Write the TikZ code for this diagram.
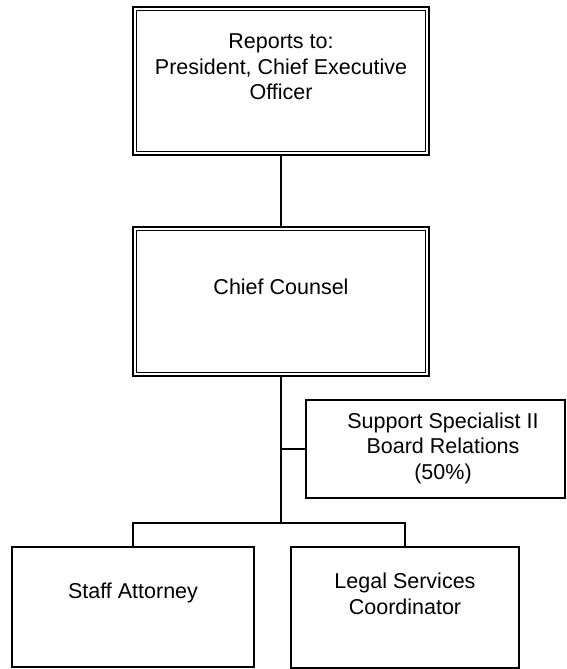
\documentclass[tikz,border=0pt]{standalone}
\usepackage{fontspec}
\setmainfont{Liberation Sans}
\begin{document}
\begin{tikzpicture}[x=1pt,y=1pt,
  box/.style={draw, line width=1.7pt, rectangle, inner sep=0pt},
  lbl/.style={align=center, inner sep=0pt, font=\fontsize{21.5}{25.5}\selectfont},
  conn/.style={line width=1.7pt},
  inner/.style={line width=1.3pt}]
\useasboundingbox (0,0) rectangle (566,669);
% boxes
\node[box, minimum width=296pt, minimum height=148pt] (top) at (281,588) {};
\node[box, minimum width=296pt, minimum height=149pt] (chief) at (281,367.5) {};
\node[box, line width=1.5pt, minimum width=259pt, minimum height=98pt] (support) at (435.5,220) {};
\node[box, line width=1.5pt, minimum width=242pt, minimum height=120pt] (staff) at (133,62) {};
\node[box, line width=1.5pt, minimum width=228pt, minimum height=121pt] (legal) at (405,61.5) {};
% inner borders (double frames)
\draw[inner] ([shift={(4.5pt,-4.5pt)}]top.north west) rectangle ([shift={(-4.5pt,4.5pt)}]top.south east);
\draw[inner] ([shift={(4.5pt,-4.5pt)}]chief.north west) rectangle ([shift={(-4.5pt,4.5pt)}]chief.south east);
% labels
\node[lbl] (ttop) at (281,602) {Reports to:\\President, Chief Executive\\Officer};
\node[lbl] (tchief) at (281,382) {Chief Counsel};
\node[lbl] (tsupport) at (443,221) {Support Specialist II\\Board Relations\\(50\%)};
\node[lbl] (tstaff) at (133,76) {Staff Attorney};
\node[lbl] (tlegal) at (405,75) {Legal Services\\Coordinator};
% connectors
\coordinate (br) at (281,146);
\draw[conn] (top.south) -- (chief.north);
\draw[conn] (chief.south) -- (br);
\draw[conn] (support.west) -- (support.west -| chief.south);
\draw[conn] (staff.north) |- (br) -| (legal.north);
\end{tikzpicture}
\end{document}
